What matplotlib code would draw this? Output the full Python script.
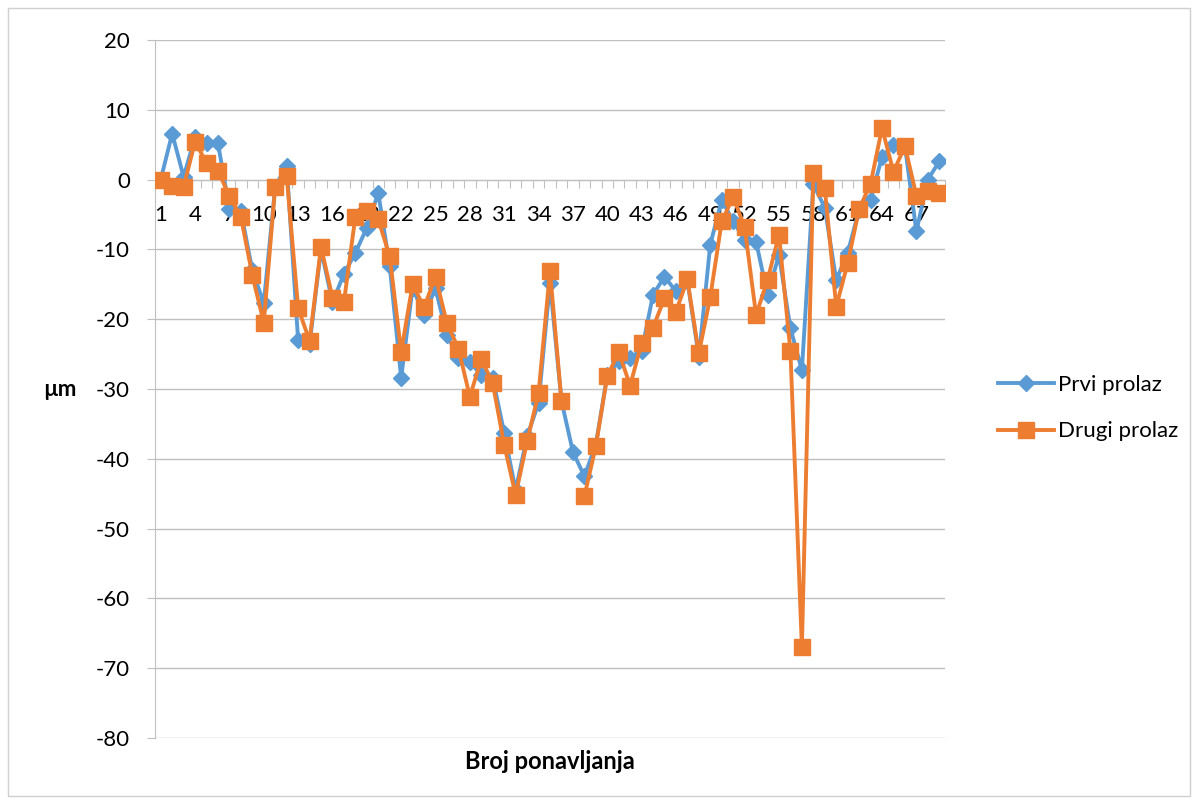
import numpy as np
import matplotlib
matplotlib.use("Agg")
import matplotlib.pyplot as plt
from matplotlib.patches import Rectangle

plt.rcParams['font.family'] = ['Lato', 'DejaVu Sans']
plt.rcParams['axes.unicode_minus'] = False

# measurements, one value per repetition
prvi_prolaz = [0, 6.6, 0.4, 6.1, 5.3, 5.2, -4.2, -4.5, -13.0, -17.7,
               -1.0, 2.0, -23.0, -23.6, -10.0, -17.6, -13.5, -10.5, -6.9, -1.9,
               -12.4, -28.4, -15.5, -19.4, -15.6, -22.3, -25.5, -26.1, -28.0, -28.4,
               -36.3, -44.5, -36.8, -32.0, -14.8, -31.7, -39.0, -42.5, -38.0, -28.0,
               -26.0, -25.5, -24.6, -16.5, -13.9, -16.0, -14.5, -25.4, -9.3, -2.9,
               -6.0, -8.6, -8.9, -16.5, -10.8, -21.3, -27.3, -0.7, -4.0, -14.4,
               -10.5, -4.3, -2.9, 3.3, 5.0, 4.8, -7.4, 0.0, 2.6]
drugi_prolaz = [0, -0.9, -1.0, 5.4, 2.4, 1.3, -2.4, -5.3, -13.7, -20.5,
                -1.0, 0.5, -18.4, -23.1, -9.6, -16.9, -17.6, -5.3, -4.5, -5.7,
                -11.0, -24.7, -15.0, -18.3, -13.9, -20.6, -24.2, -31.1, -25.7, -29.2,
                -38.0, -45.2, -37.5, -30.6, -13.1, -31.7, np.nan, -45.4, -38.2, -28.2,
                -24.7, -29.5, -23.4, -21.2, -17.0, -18.9, -14.3, -24.9, -16.8, -6.0,
                -2.5, -6.8, -19.4, -14.4, -7.9, -24.6, -67.0, 1.0, -1.2, -18.2,
                -12.0, -4.2, -0.6, 7.4, 1.1, 4.8, -2.3, -1.7, -1.9]
ponavljanja = np.arange(1, len(prvi_prolaz) + 1)
x_labels = [str(i) for i in ponavljanja[::3]]

blue = '#5B9BD5'
orange = '#ED7D31'
grid_c = '#C0C0C0'

fig = plt.figure(figsize=(11.95, 7.98), dpi=100)
ax = fig.add_axes([155/1195, 60/798, 790/1195, 698/798])

ax.plot(ponavljanja, prvi_prolaz, color=blue, lw=2.8, marker='D', ms=8,
        label='Prvi prolaz', zorder=3)
ax.plot(ponavljanja, drugi_prolaz, color=orange, lw=2.8, marker='s', ms=11,
        label='Drugi prolaz', zorder=4)

ax.set_xlim(0.5, len(ponavljanja) + 0.5)
ax.set_ylim(-80, 20)
ax.set_yticks(np.arange(-80, 21, 10))
ax.yaxis.grid(True, color=grid_c, lw=1)
ax.set_axisbelow(True)

for s in ['top', 'right']:
    ax.spines[s].set_visible(False)
ax.spines['left'].set_color(grid_c)
ax.spines['bottom'].set_position(('data', 0))
ax.spines['bottom'].set_color(grid_c)

# tick marks between categories, labels every third category
ax.set_xticks(np.arange(0.5, len(ponavljanja) + 1, 1))
ax.set_xticklabels([])
ax.set_xticks(ponavljanja[::3], minor=True)
ax.set_xticklabels(x_labels, minor=True, fontsize=16)
ax.tick_params(axis='x', which='major', direction='out', length=6, color=grid_c)
ax.tick_params(axis='x', which='minor', length=0, pad=18)
ax.tick_params(axis='y', direction='out', length=6, color=grid_c, labelsize=16, pad=12)

ax.set_ylabel('µm', rotation=0, fontsize=16, fontweight='bold', va='center', ha='center')
ax.yaxis.set_label_coords(-0.12, 0.5)
ax.text(0.5, -0.034, 'Broj ponavljanja', transform=ax.transAxes, ha='center',
        va='center', fontsize=17, fontweight='bold')

fig.legend(loc='center left', bbox_to_anchor=(978/1195, 1 - 408/798), frameon=False,
           fontsize=16, handlelength=2.5, labelspacing=1.2, handletextpad=0.2)

fig.patches.append(Rectangle((8/1195, 2/798), 1182/1195, 788/798, transform=fig.transFigure,
                             fill=False, edgecolor='#D0D0D0', lw=1))

plt.savefig('out.png', dpi=100)
